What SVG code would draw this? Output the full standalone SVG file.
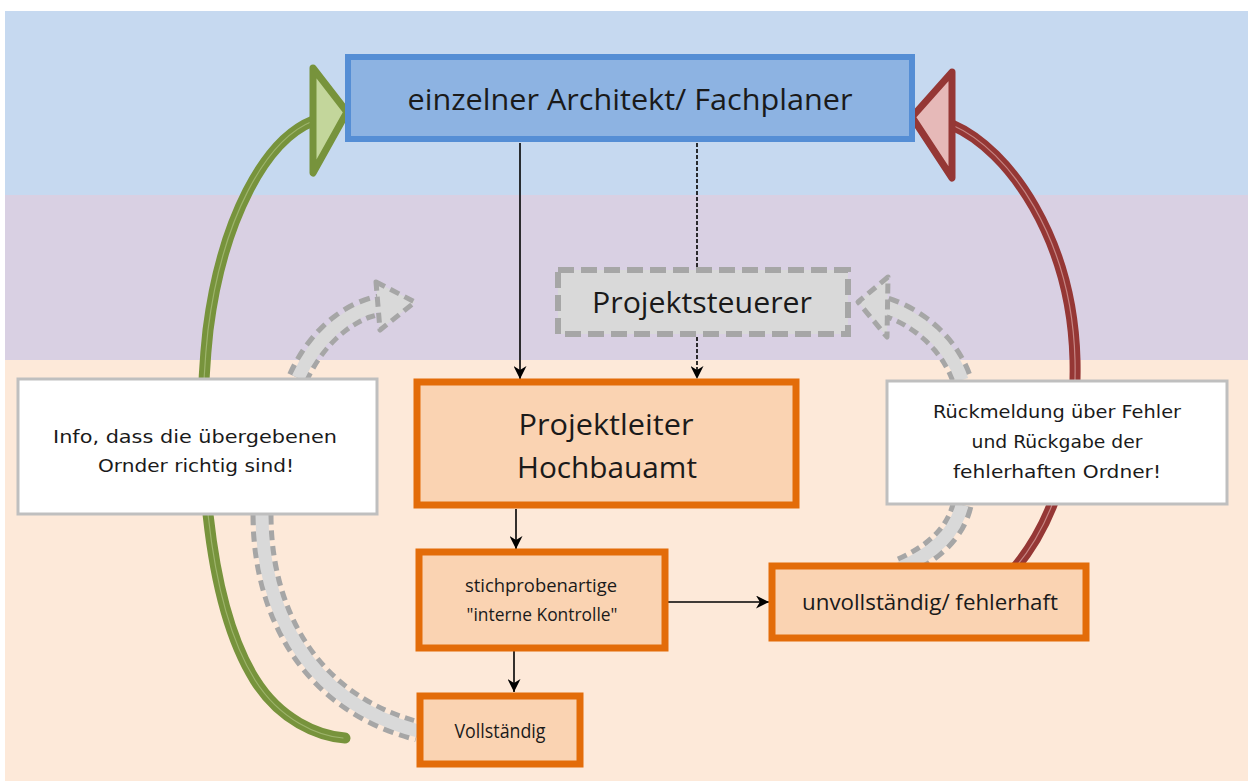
<svg xmlns="http://www.w3.org/2000/svg" width="1248" height="781" viewBox="0 0 1248 781">
<defs>
<style>
.t{font-family:"Open Sans","Noto Sans","DejaVu Sans",sans-serif;fill:#1a1a1a;text-anchor:middle}
.w{font-family:"DejaVu Sans","Open Sans",sans-serif;fill:#1a1a1a;text-anchor:middle;font-size:17.5px}
.ob{fill:#FAD3B2;stroke:#E36C09;stroke-width:7}
.wb{fill:#FFFFFF;stroke:#BFBFBF;stroke-width:3}
.ln{stroke:#000;stroke-width:1.6;fill:none}
.gdo{fill:none;stroke:#A6A6A6;stroke-width:23;stroke-dasharray:10 6}
.gdi{fill:none;stroke:#D9D9D9;stroke-width:13}
.gh{fill:#D9D9D9;stroke:#A6A6A6;stroke-width:5;stroke-dasharray:10 6;stroke-linejoin:round}
</style>
<marker id="ah2" viewBox="0 0 10 10" refX="10" refY="5" markerWidth="13" markerHeight="13" markerUnits="userSpaceOnUse" orient="auto">
<path d="M0,0 L10,5 L0,10 L3,5 Z" fill="#000"/>
</marker>
</defs>
<g id="background">
<rect x="0" y="0" width="1248" height="781" fill="#FFFFFF"/>
<rect x="5" y="11" width="1243" height="184" fill="#C6D9F0"/>
<rect x="5" y="195" width="1243" height="165" fill="#D9D0E3"/>
<rect x="5" y="360" width="1243" height="421" fill="#FDE9D9"/>
</g>
<g id="flow-arrows">
<g id="gray-left">
<path class="gdo" d="M298,378 C315,340 345,312 380,305"/>
<path class="gdo" d="M262,515 C262,600 300,700 418,731"/>
<path class="gdi" d="M298,378 C315,340 345,312 380,305"/>
<path class="gdi" d="M262,515 C262,600 300,700 418,731"/>
<polygon class="gh" points="376,282 415,302 380,330"/>
</g>
<g id="gray-right">
<path class="gdo" d="M886,307 C920,318 950,345 962,380"/>
<path class="gdo" d="M962,505 C955,535 930,555 900,568"/>
<path class="gdi" d="M886,307 C920,318 950,345 962,380"/>
<path class="gdi" d="M962,505 C955,535 930,555 900,568"/>
<polygon class="gh" points="888,277 858,302 887,337"/>
</g>
<g id="green-arrow">
<path d="M313,121 C265,140 222,220 208,330 C196,440 205,600 255,680 C280,720 318,736 345,738" fill="none" stroke="#77933C" stroke-width="11" stroke-linecap="round"/>
<path d="M313,121 C265,140 222,220 208,330 C196,440 205,600 255,680 C280,720 318,736 343,738" fill="none" stroke="#C3D69B" stroke-width="1.2" stroke-linecap="round" opacity="0.5"/>
<polygon points="313,68 347,112 313,173" fill="#C3D69B" stroke="#77933C" stroke-width="7" stroke-linejoin="round"/>
</g>
<g id="red-arrow">
<path d="M952,125 C1010,150 1072,240 1075,360 C1077,450 1055,520 1015,568" fill="none" stroke="#953735" stroke-width="11"/>
<path d="M952,125 C1010,150 1072,240 1075,360 C1077,450 1055,520 1015,568" fill="none" stroke="#E6B9B8" stroke-width="1.2" opacity="0.6"/>
<polygon points="952,72 912,117 952,178" fill="#E6B9B8" stroke="#953735" stroke-width="7" stroke-linejoin="round"/>
</g>
</g>
<g id="connectors">
<line class="ln" x1="520" y1="143" x2="520" y2="379" marker-end="url(#ah2)"/>
<line class="ln" x1="697" y1="143" x2="697" y2="268" stroke-dasharray="4 2"/>
<line class="ln" x1="697" y1="337" x2="697" y2="379" stroke-dasharray="4 2" marker-end="url(#ah2)"/>
<line class="ln" x1="516" y1="509" x2="516" y2="549" marker-end="url(#ah2)"/>
<line class="ln" x1="667" y1="602" x2="769" y2="602" marker-end="url(#ah2)"/>
<line class="ln" x1="514" y1="651" x2="514" y2="692" marker-end="url(#ah2)"/>
</g>
<g id="architekt">
<rect x="348" y="57" width="564" height="82" fill="#8DB3E2" stroke="#558ED5" stroke-width="6"/>
<text class="t" x="630" y="110" font-size="28.5" textLength="445" lengthAdjust="spacingAndGlyphs">einzelner Architekt/ Fachplaner</text>
</g>
<g id="projektsteuerer">
<rect x="558" y="270" width="290" height="64" fill="#D9D9D9" stroke="#A6A6A6" stroke-width="6" stroke-dasharray="16 7"/>
<text class="t" x="702" y="313" font-size="28.5" textLength="220" lengthAdjust="spacingAndGlyphs">Projektsteuerer</text>
</g>
<g id="projektleiter">
<rect class="ob" x="417" y="382" width="379" height="123"/>
<text class="t" x="606" y="435" font-size="29.5" textLength="175" lengthAdjust="spacingAndGlyphs">Projektleiter</text>
<text class="t" x="607" y="478" font-size="29.5" textLength="180" lengthAdjust="spacingAndGlyphs">Hochbauamt</text>
</g>
<g id="kontrolle">
<rect class="ob" x="419" y="552" width="246" height="96"/>
<text class="t" x="541" y="592" font-size="18.5" textLength="152" lengthAdjust="spacingAndGlyphs">stichprobenartige</text>
<text class="t" x="542" y="621" font-size="18.5" textLength="151" lengthAdjust="spacingAndGlyphs">"interne Kontrolle"</text>
</g>
<g id="unvollstaendig">
<rect class="ob" x="772" y="566" width="314" height="72"/>
<text class="t" x="930" y="610" font-size="21.5" textLength="256" lengthAdjust="spacingAndGlyphs">unvollständig/ fehlerhaft</text>
</g>
<g id="vollstaendig">
<rect class="ob" x="420" y="696" width="160" height="68"/>
<text class="t" x="500" y="738" font-size="19.5" textLength="91" lengthAdjust="spacingAndGlyphs">Vollständig</text>
</g>
<g id="info-box">
<rect class="wb" x="18" y="379" width="359" height="135"/>
<text class="w" x="195" y="443" textLength="284" lengthAdjust="spacingAndGlyphs">Info, dass die übergebenen</text>
<text class="w" x="196" y="472" textLength="196" lengthAdjust="spacingAndGlyphs">Ornder richtig sind!</text>
</g>
<g id="rueckmeldung-box">
<rect class="wb" x="887" y="381" width="340" height="123"/>
<text class="w" x="1057" y="418" textLength="248" lengthAdjust="spacingAndGlyphs">Rückmeldung über Fehler</text>
<text class="w" x="1057" y="448" textLength="171" lengthAdjust="spacingAndGlyphs">und Rückgabe der</text>
<text class="w" x="1057" y="478" textLength="208" lengthAdjust="spacingAndGlyphs">fehlerhaften Ordner!</text>
</g>
</svg>
